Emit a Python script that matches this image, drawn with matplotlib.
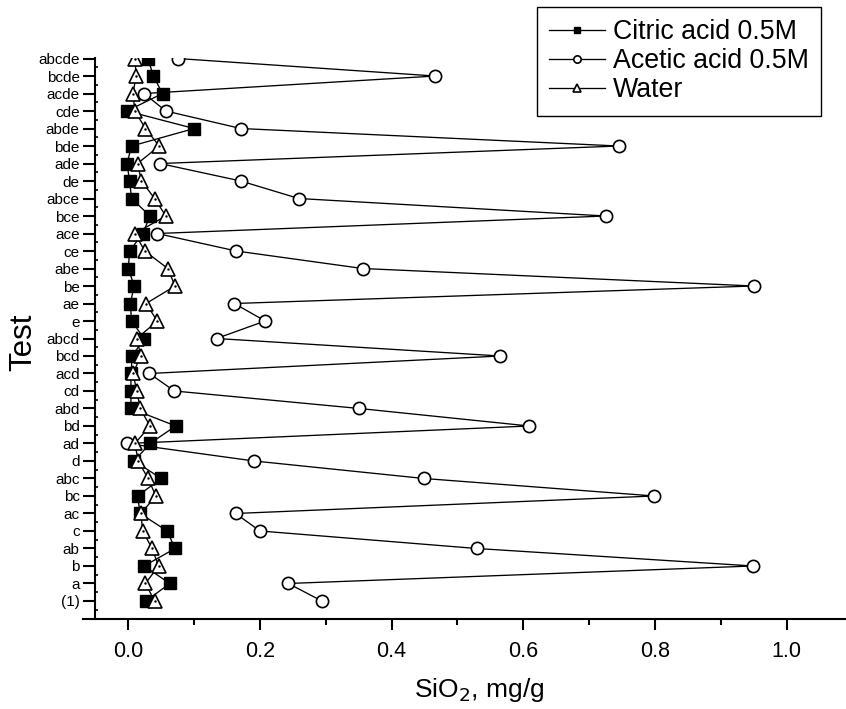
import matplotlib
matplotlib.use("Agg")
import matplotlib.pyplot as plt
from matplotlib.ticker import FixedLocator

plt.rcParams['font.family'] = ['Liberation Sans', 'DejaVu Sans']

categories = ['(1)', 'a', 'b', 'ab', 'c', 'ac', 'bc', 'abc', 'd', 'ad', 'bd', 'abd',
              'cd', 'acd', 'bcd', 'abcd', 'e', 'ae', 'be', 'abe', 'ce', 'ace', 'bce',
              'abce', 'de', 'ade', 'bde', 'abde', 'cde', 'acde', 'bcde', 'abcde']

citric = [0.027, 0.063, 0.024, 0.071, 0.059, 0.018, 0.014, 0.050, 0.009, 0.033, 0.072, 0.004,
          0.004, 0.004, 0.006, 0.024, 0.005, 0.003, 0.009, 0.000, 0.002, 0.022, 0.033,
          0.005, 0.002, -0.002, 0.005, 0.100, -0.002, 0.052, 0.038, 0.030]

acetic = [0.294, 0.243, 0.949, 0.529, 0.200, 0.163, 0.799, 0.449, 0.191, -0.002, 0.609, 0.351,
          0.070, 0.032, 0.565, 0.134, 0.208, 0.161, 0.950, 0.356, 0.164, 0.044, 0.725,
          0.259, 0.171, 0.048, 0.745, 0.171, 0.057, 0.024, 0.466, 0.075]

water = [0.040, 0.026, 0.046, 0.036, 0.022, 0.019, 0.042, 0.030, 0.015, 0.010, 0.033, 0.018,
         0.013, 0.007, 0.019, 0.013, 0.044, 0.027, 0.071, 0.060, 0.025, 0.010, 0.057,
         0.040, 0.020, 0.014, 0.047, 0.026, 0.010, 0.007, 0.012, 0.010]

labels = ['Citric acid 0.5M', 'Acetic acid 0.5M', 'Water']
xticks = [0.0, 0.2, 0.4, 0.6, 0.8, 1.0]

W, H = 846, 709
fig = plt.figure(figsize=(W / 100, H / 100), dpi=100)
left_px, right_px, top_px, bottom_px = 83, 846, 58, 619
ax = fig.add_axes([left_px / W, 1 - bottom_px / H, (right_px - left_px) / W, (bottom_px - top_px) / H])

y = list(range(len(categories)))

l1, = ax.plot(citric, y, color='black', lw=0.95, marker='s', ms=8.0, mfc='black', mec='black', zorder=3)
l2, = ax.plot(acetic, y, color='black', lw=0.95, marker='o', ms=8.8, mfc='white', mec='black', mew=1.2, zorder=4)
l3, = ax.plot(water, y, color='black', lw=0.95, marker='^', ms=9.8, mfc='white', mec='black', mew=1.2, zorder=5)
ax.plot(water, y, linestyle='none', marker='.', ms=1.5, color='black', zorder=6)

x0 = (83 - 128.3) / 658.3
x1 = (846 - 128.3) / 658.3
ax.set_xlim(x0, x1)
ax.set_ylim(-1.03, 31.03)

ax.spines['top'].set_visible(False)
ax.spines['right'].set_visible(False)
ax.spines['left'].set_position(('data', (95 - 128.3) / 658.3))
for s in ['left', 'bottom']:
    ax.spines[s].set_linewidth(1.5)

ax.xaxis.set_major_locator(FixedLocator(xticks))
ax.xaxis.set_minor_locator(FixedLocator([0.1, 0.3, 0.5, 0.7, 0.9]))
ax.set_xticklabels([f'{v:.1f}' for v in xticks])
ax.set_yticks(y)
ax.set_yticklabels(categories)
ax.yaxis.set_minor_locator(FixedLocator([i + 0.5 for i in range(-1, len(categories) - 1)]))

ax.tick_params(axis='x', which='major', direction='out', length=8, width=1.5, labelsize=15.5, pad=8)
ax.tick_params(axis='x', which='minor', direction='out', length=4.5, width=1.5)
ax.tick_params(axis='y', which='major', direction='out', length=9, width=1.5, labelsize=11, pad=2)
ax.tick_params(axis='y', which='minor', direction='in', length=2.5, width=1.2)

fig.text(479 / W, 1 - 690 / H, 'SiO$_2$, mg/g', fontsize=19, ha='center', va='center')
fig.text(23 / W, 1 - 342 / H, 'Test', fontsize=22.5, rotation=90, ha='center', va='center')

leg = fig.legend([l1, l2, l3], labels, loc='upper right', bbox_to_anchor=(821 / W, 1 - 7 / H),
                 fontsize=19.3, frameon=True, fancybox=False, framealpha=1, edgecolor='black',
                 markerscale=0.6, handlelength=2.1, handletextpad=0.3, borderpad=0.45,
                 labelspacing=0.12, borderaxespad=0)
leg.get_frame().set_linewidth(1.0)

fig.savefig('out.png', dpi=100)
